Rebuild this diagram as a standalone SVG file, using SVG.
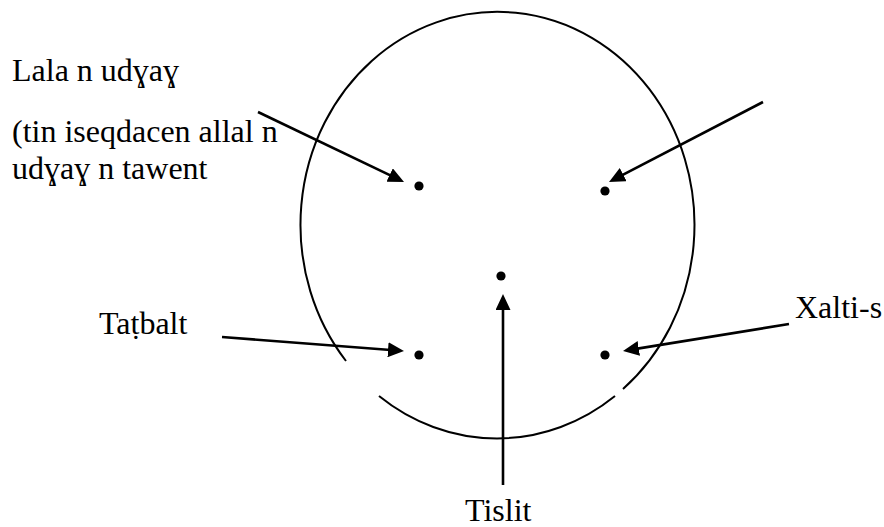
<svg xmlns="http://www.w3.org/2000/svg" width="884" height="527" viewBox="0 0 884 527">
  <style>
    .lbl { font-family: 'Liberation Serif', 'DejaVu Serif', serif; font-size: 32px; fill: #000; }
    .ring { fill: none; stroke: #000; stroke-width: 2; }
    .arrow { fill: none; stroke: #000; stroke-width: 2.6; marker-end: url(#head); }
    .dot { fill: #000; }
  </style>
  <defs>
    <marker id="head" viewBox="0 0 16 15" refX="6" refY="7.5" markerWidth="16" markerHeight="15" markerUnits="userSpaceOnUse" orient="auto">
      <path d="M0,0 L16,7.5 L0,15 z" fill="#000"/>
    </marker>
  </defs>
  <rect width="884" height="527" fill="#fff"/>

  <g id="circle">
    <path class="ring" d="M346,361 A197,213 0 1 1 623,389"/>
    <path class="ring" d="M615,396 A197,213 0 0 1 379,396"/>
  </g>

  <g id="connectors">
    <line class="arrow" x1="258" y1="112" x2="395" y2="177.7"/>
    <line class="arrow" x1="763" y1="102" x2="617.9" y2="177.4"/>
    <line class="arrow" x1="222" y1="337" x2="394" y2="350.2"/>
    <line class="arrow" x1="503" y1="485" x2="503" y2="304"/>
    <line class="arrow" x1="789" y1="324" x2="632.9" y2="349.4"/>
  </g>

  <g id="dot-top-left"><circle class="dot" cx="419" cy="186" r="4.6"/></g>
  <g id="dot-top-right"><circle class="dot" cx="605" cy="191" r="4.6"/></g>
  <g id="dot-center"><circle class="dot" cx="501" cy="276" r="4.6"/></g>
  <g id="dot-bottom-left"><circle class="dot" cx="419" cy="355" r="4.6"/></g>
  <g id="dot-bottom-right"><circle class="dot" cx="605" cy="355" r="4.6"/></g>

  <g id="label-lala" font-family="Liberation Serif, serif">
    <text class="lbl" x="12" y="81">Lala n udɣaɣ</text>
    <text class="lbl" x="12" y="142">(tin iseqdacen allal n</text>
    <text class="lbl" x="12" y="179">udɣaɣ n tawent</text>
  </g>
  <g id="label-tatbalt"><text class="lbl" x="99" y="334">Taṭbalt</text></g>
  <g id="label-xalti"><text class="lbl" x="795" y="318">Xalti-s</text></g>
  <g id="label-tislit"><text class="lbl" x="465" y="521">Tislit</text></g>
</svg>
